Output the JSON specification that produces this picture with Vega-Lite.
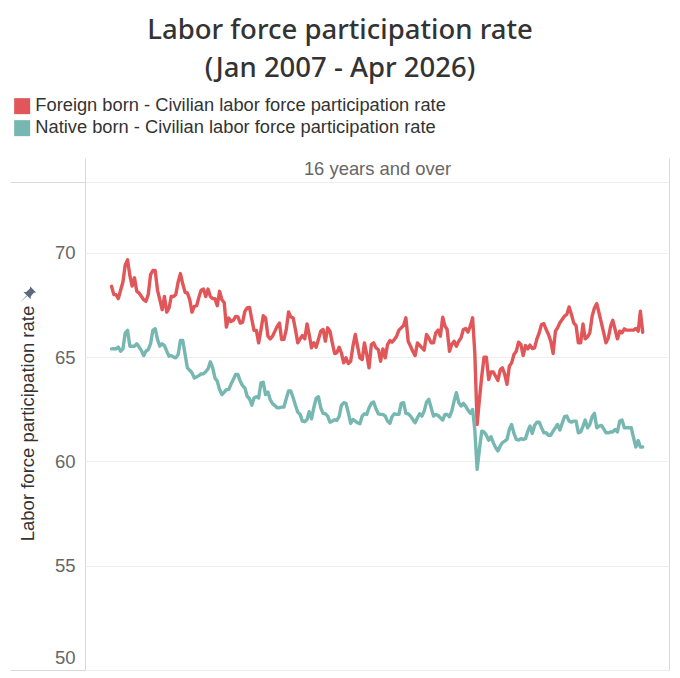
{
  "$schema": "https://vega.github.io/schema/vega-lite/v6.json",
  "autosize": "none",
  "padding": {"left": 85, "top": 182, "right": 11, "bottom": 8},
  "width": 584,
  "height": 488,
  "background": "white",
  "title": {
    "text": ["Labor force participation rate", "(Jan 2007 - Apr 2026)"],
    "font": "Noto Sans",
    "fontSize": 27.5,
    "fontWeight": 500,
    "color": "#333333",
    "lineHeight": 38,
    "anchor": "middle",
    "frame": "group",
    "dx": -37,
    "offset": 15
  },
  "config": {
    "view": {"stroke": "#d9d9d9", "strokeWidth": 1},
    "font": "Liberation Sans"
  },
  "layer": [
    {
      "data": {
        "values": [
          {"month":"2007-01-01","foreign":68.39,"native":65.39},{"month":"2007-02-01","foreign":67.99,"native":65.4},{"month":"2007-03-01","foreign":67.99,"native":65.39},{"month":"2007-04-01","foreign":67.8,"native":65.48},{"month":"2007-05-01","foreign":68.2,"native":65.28},{"month":"2007-06-01","foreign":68.6,"native":65.39},{"month":"2007-07-01","foreign":69.4,"native":66.15},{"month":"2007-08-01","foreign":69.66,"native":66.28},{"month":"2007-09-01","foreign":68.9,"native":65.52},{"month":"2007-10-01","foreign":68.4,"native":65.52},{"month":"2007-11-01","foreign":68.8,"native":65.52},{"month":"2007-12-01","foreign":68.15,"native":65.64},
          {"month":"2008-01-01","foreign":68.07,"native":65.48},{"month":"2008-02-01","foreign":67.9,"native":65.31},{"month":"2008-03-01","foreign":67.75,"native":65.07},{"month":"2008-04-01","foreign":67.67,"native":65.28},{"month":"2008-05-01","foreign":68,"native":65.36},{"month":"2008-06-01","foreign":68.95,"native":65.64},{"month":"2008-07-01","foreign":69.15,"native":66.28},{"month":"2008-08-01","foreign":69.15,"native":66.36},{"month":"2008-09-01","foreign":68.2,"native":65.84},{"month":"2008-10-01","foreign":67.75,"native":65.52},{"month":"2008-11-01","foreign":67.27,"native":65.64},{"month":"2008-12-01","foreign":67.9,"native":65.55},
          {"month":"2009-01-01","foreign":67.15,"native":65.28},{"month":"2009-02-01","foreign":67.35,"native":65.04},{"month":"2009-03-01","foreign":67.9,"native":65.07},{"month":"2009-04-01","foreign":67.9,"native":65},{"month":"2009-05-01","foreign":68,"native":64.96},{"month":"2009-06-01","foreign":68.6,"native":65.12},{"month":"2009-07-01","foreign":69,"native":65.79},{"month":"2009-08-01","foreign":68.5,"native":65.79},{"month":"2009-09-01","foreign":68.1,"native":65.12},{"month":"2009-10-01","foreign":68.07,"native":64.48},{"month":"2009-11-01","foreign":67.75,"native":64.37},{"month":"2009-12-01","foreign":67.15,"native":64.24},
          {"month":"2010-01-01","foreign":67.43,"native":64},{"month":"2010-02-01","foreign":67.46,"native":64.05},{"month":"2010-03-01","foreign":67.85,"native":64.11},{"month":"2010-04-01","foreign":68.2,"native":64.19},{"month":"2010-05-01","foreign":68.26,"native":64.2},{"month":"2010-06-01","foreign":67.9,"native":64.3},{"month":"2010-07-01","foreign":68.26,"native":64.43},{"month":"2010-08-01","foreign":67.9,"native":64.77},{"month":"2010-09-01","foreign":67.8,"native":64.48},{"month":"2010-10-01","foreign":67.8,"native":64},{"month":"2010-11-01","foreign":67.46,"native":63.84},{"month":"2010-12-01","foreign":68.15,"native":63.44},
          {"month":"2011-01-01","foreign":67.75,"native":63.2},{"month":"2011-02-01","foreign":67.6,"native":63.32},{"month":"2011-03-01","foreign":66.44,"native":63.44},{"month":"2011-04-01","foreign":66.87,"native":63.44},{"month":"2011-05-01","foreign":66.7,"native":63.7},{"month":"2011-06-01","foreign":66.76,"native":63.92},{"month":"2011-07-01","foreign":66.95,"native":64.16},{"month":"2011-08-01","foreign":66.92,"native":64.16},{"month":"2011-09-01","foreign":66.63,"native":63.84},{"month":"2011-10-01","foreign":66.66,"native":63.63},{"month":"2011-11-01","foreign":67.19,"native":63.52},{"month":"2011-12-01","foreign":67.35,"native":63.12},
          {"month":"2012-01-01","foreign":67.38,"native":63},{"month":"2012-02-01","foreign":66.8,"native":62.69},{"month":"2012-03-01","foreign":66.28,"native":63.04},{"month":"2012-04-01","foreign":66.28,"native":63.1},{"month":"2012-05-01","foreign":65.68,"native":63.04},{"month":"2012-06-01","foreign":66.3,"native":63.76},{"month":"2012-07-01","foreign":66.98,"native":63.79},{"month":"2012-08-01","foreign":66.87,"native":63.2},{"month":"2012-09-01","foreign":66,"native":63.32},{"month":"2012-10-01","foreign":65.87,"native":62.96},{"month":"2012-11-01","foreign":66,"native":62.77},{"month":"2012-12-01","foreign":66.23,"native":62.68},
          {"month":"2013-01-01","foreign":66.47,"native":62.57},{"month":"2013-02-01","foreign":66.63,"native":62.57},{"month":"2013-03-01","foreign":65.84,"native":62.6},{"month":"2013-04-01","foreign":65.85,"native":62.6},{"month":"2013-05-01","foreign":66.3,"native":63},{"month":"2013-06-01","foreign":67.16,"native":63.37},{"month":"2013-07-01","foreign":66.92,"native":63.37},{"month":"2013-08-01","foreign":66.88,"native":63.05},{"month":"2013-09-01","foreign":66.3,"native":62.68},{"month":"2013-10-01","foreign":65.68,"native":62.36},{"month":"2013-11-01","foreign":65.87,"native":62.25},{"month":"2013-12-01","foreign":66.03,"native":61.93},
          {"month":"2014-01-01","foreign":65.87,"native":61.9},{"month":"2014-02-01","foreign":66.59,"native":62.01},{"month":"2014-03-01","foreign":66.08,"native":62.38},{"month":"2014-04-01","foreign":65.44,"native":62.04},{"month":"2014-05-01","foreign":65.68,"native":62.57},{"month":"2014-06-01","foreign":65.47,"native":63.02},{"month":"2014-07-01","foreign":65.84,"native":63.1},{"month":"2014-08-01","foreign":66.24,"native":62.57},{"month":"2014-09-01","foreign":66.32,"native":62.3},{"month":"2014-10-01","foreign":65.76,"native":62.28},{"month":"2014-11-01","foreign":66.4,"native":62.17},{"month":"2014-12-01","foreign":66.24,"native":61.88},
          {"month":"2015-01-01","foreign":65.68,"native":61.93},{"month":"2015-02-01","foreign":65.17,"native":62},{"month":"2015-03-01","foreign":65.2,"native":61.96},{"month":"2015-04-01","foreign":65.47,"native":62.14},{"month":"2015-05-01","foreign":65.2,"native":62.68},{"month":"2015-06-01","foreign":64.72,"native":62.81},{"month":"2015-07-01","foreign":64.96,"native":62.78},{"month":"2015-08-01","foreign":64.69,"native":62.33},{"month":"2015-09-01","foreign":64.8,"native":61.82},{"month":"2015-10-01","foreign":65.52,"native":62.01},{"month":"2015-11-01","foreign":66.08,"native":61.93},{"month":"2015-12-01","foreign":65.52,"native":61.85},
          {"month":"2016-01-01","foreign":64.96,"native":61.8},{"month":"2016-02-01","foreign":64.88,"native":62.17},{"month":"2016-03-01","foreign":65.68,"native":62.28},{"month":"2016-04-01","foreign":65.12,"native":62.25},{"month":"2016-05-01","foreign":64.48,"native":62.57},{"month":"2016-06-01","foreign":65.6,"native":62.78},{"month":"2016-07-01","foreign":65.68,"native":62.84},{"month":"2016-08-01","foreign":65.44,"native":62.52},{"month":"2016-09-01","foreign":65.36,"native":62.28},{"month":"2016-10-01","foreign":64.8,"native":62.25},{"month":"2016-11-01","foreign":65.39,"native":62.25},{"month":"2016-12-01","foreign":64.96,"native":62.17},
          {"month":"2017-01-01","foreign":65.6,"native":61.93},{"month":"2017-02-01","foreign":65.79,"native":61.82},{"month":"2017-03-01","foreign":65.71,"native":62.14},{"month":"2017-04-01","foreign":65.84,"native":62.28},{"month":"2017-05-01","foreign":66,"native":62.25},{"month":"2017-06-01","foreign":66.29,"native":62.25},{"month":"2017-07-01","foreign":66.4,"native":62.78},{"month":"2017-08-01","foreign":66.51,"native":62.81},{"month":"2017-09-01","foreign":66.88,"native":62.3},{"month":"2017-10-01","foreign":65.76,"native":62.28},{"month":"2017-11-01","foreign":65.52,"native":62.17},{"month":"2017-12-01","foreign":65.28,"native":62.01},
          {"month":"2018-01-01","foreign":65.07,"native":61.85},{"month":"2018-02-01","foreign":65.68,"native":62.09},{"month":"2018-03-01","foreign":65.57,"native":62.28},{"month":"2018-04-01","foreign":65.44,"native":62.17},{"month":"2018-05-01","foreign":65.33,"native":62.41},{"month":"2018-06-01","foreign":66.08,"native":62.84},{"month":"2018-07-01","foreign":65.92,"native":62.97},{"month":"2018-08-01","foreign":65.68,"native":62.57},{"month":"2018-09-01","foreign":65.68,"native":62.17},{"month":"2018-10-01","foreign":66.16,"native":62.25},{"month":"2018-11-01","foreign":66.29,"native":62.2},{"month":"2018-12-01","foreign":66,"native":62.09},
          {"month":"2019-01-01","foreign":66.91,"native":61.98},{"month":"2019-02-01","foreign":66.48,"native":62.25},{"month":"2019-03-01","foreign":66.32,"native":62.25},{"month":"2019-04-01","foreign":65.28,"native":62.14},{"month":"2019-05-01","foreign":65.6,"native":62.41},{"month":"2019-06-01","foreign":65.76,"native":62.89},{"month":"2019-07-01","foreign":65.52,"native":63.29},{"month":"2019-08-01","foreign":65.76,"native":62.81},{"month":"2019-09-01","foreign":65.92,"native":62.65},{"month":"2019-10-01","foreign":66.32,"native":62.78},{"month":"2019-11-01","foreign":66.37,"native":62.65},{"month":"2019-12-01","foreign":66.2,"native":62.46},
          {"month":"2020-01-01","foreign":66.48,"native":62.3},{"month":"2020-02-01","foreign":66.88,"native":62.49},{"month":"2020-03-01","foreign":65.2,"native":61.5},{"month":"2020-04-01","foreign":61.77,"native":59.62},{"month":"2020-05-01","foreign":62.97,"native":60.58},{"month":"2020-06-01","foreign":64.08,"native":61.45},{"month":"2020-07-01","foreign":64.99,"native":61.41},{"month":"2020-08-01","foreign":64.99,"native":61.25},{"month":"2020-09-01","foreign":63.92,"native":61.01},{"month":"2020-10-01","foreign":64.28,"native":61.18},{"month":"2020-11-01","foreign":64.28,"native":60.9},{"month":"2020-12-01","foreign":64.08,"native":60.66},
          {"month":"2021-01-01","foreign":63.88,"native":60.5},{"month":"2021-02-01","foreign":64.4,"native":60.74},{"month":"2021-03-01","foreign":64.48,"native":60.9},{"month":"2021-04-01","foreign":64.17,"native":60.97},{"month":"2021-05-01","foreign":63.69,"native":61.05},{"month":"2021-06-01","foreign":64.56,"native":61.53},{"month":"2021-07-01","foreign":64.72,"native":61.77},{"month":"2021-08-01","foreign":65.12,"native":61.34},{"month":"2021-09-01","foreign":65.28,"native":61.05},{"month":"2021-10-01","foreign":65.71,"native":61.02},{"month":"2021-11-01","foreign":65.6,"native":61.09},{"month":"2021-12-01","foreign":65.07,"native":61.05},
          {"month":"2022-01-01","foreign":65.55,"native":61.09},{"month":"2022-02-01","foreign":65.39,"native":61.45},{"month":"2022-03-01","foreign":65.57,"native":61.69},{"month":"2022-04-01","foreign":65.41,"native":61.34},{"month":"2022-05-01","foreign":65.44,"native":61.72},{"month":"2022-06-01","foreign":65.87,"native":61.88},{"month":"2022-07-01","foreign":66.16,"native":61.88},{"month":"2022-08-01","foreign":66.56,"native":61.61},{"month":"2022-09-01","foreign":66.6,"native":61.37},{"month":"2022-10-01","foreign":66.32,"native":61.37},{"month":"2022-11-01","foreign":66.08,"native":61.25},{"month":"2022-12-01","foreign":65.76,"native":61.25},
          {"month":"2023-01-01","foreign":65.17,"native":61.45},{"month":"2023-02-01","foreign":66.24,"native":61.61},{"month":"2023-03-01","foreign":66.4,"native":61.77},{"month":"2023-04-01","foreign":66.64,"native":61.5},{"month":"2023-05-01","foreign":66.8,"native":61.82},{"month":"2023-06-01","foreign":66.96,"native":62.14},{"month":"2023-07-01","foreign":67.04,"native":62.17},{"month":"2023-08-01","foreign":67.4,"native":61.93},{"month":"2023-09-01","foreign":67.04,"native":61.88},{"month":"2023-10-01","foreign":66.64,"native":61.93},{"month":"2023-11-01","foreign":66.51,"native":61.93},{"month":"2023-12-01","foreign":65.68,"native":61.37},
          {"month":"2024-01-01","foreign":65.68,"native":61.41},{"month":"2024-02-01","foreign":66.59,"native":61.69},{"month":"2024-03-01","foreign":65.87,"native":61.98},{"month":"2024-04-01","foreign":65.97,"native":61.61},{"month":"2024-05-01","foreign":66.16,"native":61.77},{"month":"2024-06-01","foreign":66.96,"native":62.14},{"month":"2024-07-01","foreign":67.35,"native":62.3},{"month":"2024-08-01","foreign":67.56,"native":61.61},{"month":"2024-09-01","foreign":67.1,"native":61.69},{"month":"2024-10-01","foreign":66.64,"native":61.72},{"month":"2024-11-01","foreign":66.16,"native":61.56},{"month":"2024-12-01","foreign":65.68,"native":61.37},
          {"month":"2025-01-01","foreign":65.92,"native":61.37},{"month":"2025-02-01","foreign":66.48,"native":61.41},{"month":"2025-03-01","foreign":66.76,"native":61.41},{"month":"2025-04-01","foreign":66.32,"native":61.53},{"month":"2025-05-01","foreign":65.87,"native":61.41},{"month":"2025-06-01","foreign":66.24,"native":61.93},{"month":"2025-07-01","foreign":66.16,"native":61.98},{"month":"2025-08-01","foreign":66.35,"native":61.61},{"month":"2025-09-01","foreign":66.29,"native":61.61},{"month":"2025-10-01","foreign":66.29,"native":61.61},{"month":"2025-11-01","foreign":66.29,"native":61.61},{"month":"2025-12-01","foreign":66.29,"native":61.13},
          {"month":"2026-01-01","foreign":66.37,"native":60.69},{"month":"2026-02-01","foreign":66.24,"native":61},{"month":"2026-03-01","foreign":67.2,"native":60.69},{"month":"2026-04-01","foreign":66.19,"native":60.69}
        ]
      },
      "transform": [{"fold": ["foreign", "native"], "as": ["series", "rate"]}],
      "mark": {"type": "line", "strokeWidth": 3.4, "strokeJoin": "round", "strokeCap": "round"},
      "encoding": {
        "x": {
          "field": "month",
          "type": "temporal",
          "scale": {"domain": [{"year": 2006, "month": 1, "date": 15}, {"year": 2027, "month": 3, "date": 15}]},
          "axis": {
            "orient": "top",
            "title": "16 years and over",
            "titleFont": "Liberation Sans",
            "titleFontSize": 18.4,
            "titleFontWeight": "normal",
            "titleColor": "#666666",
            "titlePadding": -21,
            "values": [{"year": 2006, "month": 1, "date": 15}, {"year": 2027, "month": 3, "date": 15}],
            "labels": false,
            "domain": false,
            "grid": false,
            "ticks": true,
            "tickSize": 24,
            "tickColor": "#d9d9d9"
          }
        },
        "y": {
          "field": "rate",
          "type": "quantitative",
          "scale": {"domain": [50, 73.39], "nice": false, "zero": false},
          "axis": {
            "title": "Labor force participation rate",
            "titleFont": "Liberation Sans",
            "titleFontSize": 18.5,
            "titleFontWeight": "normal",
            "titleColor": "#333333",
            "titleX": -48,
            "titleY": 241,
            "values": [50, 55, 60, 65, 70, 73.39],
            "labelExpr": "datum.value > 73 ? '' : datum.label",
            "labelFont": "Liberation Sans",
            "labelFontSize": 18.5,
            "labelColor": "#666666",
            "labelPadding": -65,
            "labelBaseline": {"expr": "datum.value == 50 ? 'bottom' : 'middle'"},
            "labelOffset": {"expr": "datum.value == 50 ? -3 : 0"},
            "domain": false,
            "ticks": true,
            "tickSize": 75,
            "tickColor": {"expr": "datum.value > 73 || datum.value == 50 ? '#d9d9d9' : 'transparent'"},
            "grid": true,
            "gridColor": "#eeeeee",
            "gridWidth": 1
          }
        },
        "color": {
          "field": "series",
          "type": "nominal",
          "scale": {"domain": ["foreign", "native"], "range": ["#e15759", "#76b7b2"]},
          "legend": {
            "orient": "none",
            "legendX": -72,
            "legendY": -85,
            "title": null,
            "symbolType": "square",
            "symbolSize": 256,
            "symbolStrokeWidth": 0,
            "symbolOpacity": 1,
            "labelFont": "Liberation Sans",
            "labelFontSize": 18.3,
            "labelColor": "#333333",
            "labelLimit": 500,
            "labelOffset": 4,
            "rowPadding": 3,
            "labelExpr": "datum.value == 'foreign' ? 'Foreign born - Civilian labor force participation rate' : 'Native born - Civilian labor force participation rate'",
            "encode": {"symbols": {"update": {"fill": {"signal": "scale('color', datum.value)"}}}}
          }
        }
      }
    },
    {
      "data": {"values": [{"month": "2003-12-22", "rate": 67.99}]},
      "mark": {
        "type": "point",
        "filled": true,
        "clip": false,
        "size": 330,
        "color": "#5b6b7d",
        "opacity": 1,
        "shape": "M0.25,-0.9 L0.9,-0.25 L0.65,-0.2 L0.3,0.2 L0.3,0.5 L-0.5,-0.3 L-0.2,-0.3 L0.2,-0.65 Z M-0.1,0.15 L-0.9,0.9 L-0.15,0.1 Z"
      },
      "encoding": {
        "x": {"field": "month", "type": "temporal"},
        "y": {"field": "rate", "type": "quantitative"}
      }
    }
  ]
}
